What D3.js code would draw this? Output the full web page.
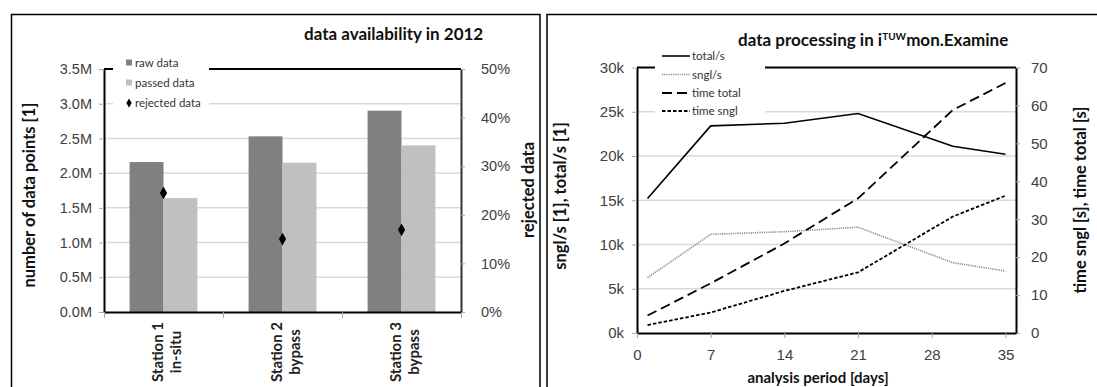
<!DOCTYPE html>
<html><head><meta charset="utf-8">
<script src="https://cdn.jsdelivr.net/npm/d3@7"></script>
<style>
body{margin:0;background:#fff;}
svg{display:block;font-family:Lato,"Open Sans",sans-serif;}
</style></head><body>
<svg id="c" width="1097" height="387"></svg>
<script>
// ---------- data: left chart ----------
const stations = ["Station 1|in-situ", "Station 2|bypass", "Station 3|bypass"];
const rawData = [2.16, 2.53, 2.90];        // millions
const passedData = [1.64, 2.15, 2.40];     // millions
const rejectedPct = [24.5, 15.0, 16.9];    // percent
const countTicks = [0, 0.5, 1, 1.5, 2, 2.5, 3, 3.5];
const pctTicks = [0, 10, 20, 30, 40, 50];
const leftLegend = ["raw data", "passed data", "rejected data"];

// ---------- data: right chart ----------
const days = [1, 7, 14, 21, 30, 35];
const totalPerS = [15.2, 23.4, 23.7, 24.8, 21.1, 20.2];   // k
const snglPerS = [6.25, 11.15, 11.45, 11.95, 7.95, 7.0];  // k
const timeTotal = [4.6, 13.1, 23.6, 35.5, 58.8, 65.9];    // s
const timeSngl = [2.1, 5.4, 11.1, 16.0, 30.7, 36.2];      // s
const dayTicks = [0, 7, 14, 21, 28, 35];
const rateTicks = [0, 5, 10, 15, 20, 25, 30];
const secTicks = [0, 10, 20, 30, 40, 50, 60, 70];
const rightLegend = ["total/s", "sngl/s", "time total", "time sngl"];

const svg = d3.select("#c");
const TICKC = "#404040", GRID = "#d9d9d9";

// panel frames
svg.append("rect").attr("x", 11.5).attr("y", 14.5).attr("width", 528.5).attr("height", 420)
  .attr("fill", "none").attr("stroke", "#000").attr("stroke-width", 1.5);
svg.append("rect").attr("x", 547).attr("y", 14.5).attr("width", 600).attr("height", 420)
  .attr("fill", "none").attr("stroke", "#000").attr("stroke-width", 1.5);

function styleAxis(g, domainColor, domainWidth, fs) {
  g.select(".domain").attr("stroke", domainColor).attr("stroke-width", domainWidth);
  g.selectAll(".tick line").attr("stroke", "#a6a6a6").attr("stroke-width", 1);
  g.selectAll(".tick text").attr("fill", TICKC).style("font-size", fs + "px");
}

// ================= LEFT CHART =================
(function () {
  const X0 = 104, X1 = 461, Y0 = 69, Y1 = 312;
  const x = d3.scaleBand().domain(stations).range([X0, X1]).paddingInner(0.43).paddingOuter(0.215);
  const xs = d3.scaleBand().domain(["raw", "passed"]).range([0, x.bandwidth()]);
  const y = d3.scaleLinear().domain([0, 3.5]).range([Y1, Y0]);
  const yp = d3.scaleLinear().domain([0, 50]).range([Y1, Y0]);
  const g = svg.append("g");

  g.selectAll(".grid").data(countTicks.filter(d => d > 0 && d < 3.5)).join("line")
    .attr("x1", X0).attr("x2", X1).attr("y1", d => y(d)).attr("y2", d => y(d))
    .attr("stroke", GRID).attr("stroke-width", 1.5);

  stations.forEach((s, i) => {
    g.append("rect").attr("x", x(s) + xs("raw")).attr("y", y(rawData[i]))
      .attr("width", xs.bandwidth()).attr("height", y(0) - y(rawData[i])).attr("fill", "#808080");
    g.append("rect").attr("x", x(s) + xs("passed")).attr("y", y(passedData[i]))
      .attr("width", xs.bandwidth()).attr("height", y(0) - y(passedData[i])).attr("fill", "#c0c0c0");
  });

  g.append("line").attr("x1", X0).attr("x2", X1).attr("y1", Y0).attr("y2", Y0)
    .attr("stroke", "#000").attr("stroke-width", 2);

  const ax = g.append("g").attr("transform", `translate(${X0},0)`)
    .call(d3.axisLeft(y).tickValues(countTicks).tickFormat(d => d.toFixed(1) + "M").tickSize(5).tickSizeOuter(0).tickPadding(7));
  styleAxis(ax, "#000", 2, 14.5);
  const axr = g.append("g").attr("transform", `translate(${X1},0)`)
    .call(d3.axisRight(yp).tickValues(pctTicks).tickFormat(d => d + "%").tickSize(4).tickSizeOuter(0).tickPadding(16));
  styleAxis(axr, "#333", 2, 14.5);
  const xb = d3.scaleLinear().domain([0, stations.length]).range([X0, X1]);
  const axb = g.append("g").attr("transform", `translate(0,${Y1})`)
    .call(d3.axisBottom(xb).tickValues(d3.range(stations.length + 1)).tickFormat("").tickSize(6).tickSizeOuter(0));
  styleAxis(axb, "#000", 2, 14.5);

  stations.forEach(s => {
    const parts = s.split("|");
    const t = g.append("text")
      .attr("transform", `translate(${x(s) + x.bandwidth() / 2},352) rotate(-90)`)
      .attr("text-anchor", "middle").style("font-size", "15px").style("font-weight", "bold").attr("fill", "#222");
    t.append("tspan").attr("x", 0).attr("y", -1).text(parts[0]);
    t.append("tspan").attr("x", 0).attr("y", 17).text(parts[1]);
  });

  g.selectAll(".dia").data(stations).join("path")
    .attr("transform", (s, i) => `translate(${x(s) + x.bandwidth() / 2},${yp(rejectedPct[i])})`)
    .attr("d", d3.symbol(d3.symbolDiamond, 46)).attr("fill", "#000");

  // legend
  g.append("rect").attr("x", 113).attr("y", 52).attr("width", 96).attr("height", 62).attr("fill", "#fff");
  const ly = [63, 83, 103];
  leftLegend.forEach((name, i) => {
    if (i < 2) {
      g.append("rect").attr("x", 126).attr("y", ly[i] - 3.5).attr("width", 6).attr("height", 6)
        .attr("fill", i === 0 ? "#808080" : "#c0c0c0");
    } else {
      g.append("path").attr("transform", `translate(129,${ly[i]})`)
        .attr("d", d3.symbol(d3.symbolDiamond, 24)).attr("fill", "#000");
    }
    g.append("text").attr("x", 135).attr("y", ly[i]).attr("dy", "0.35em")
      .style("font-size", "11.5px").attr("fill", "#333").text(name);
  });

  g.append("text").attr("x", 304).attr("y", 40).style("font-size", "17px").style("font-weight", "bold")
    .attr("fill", "#111").text("data availability in 2012");
  g.append("text").attr("transform", "translate(35,195) rotate(-90)").attr("text-anchor", "middle")
    .style("font-size", "16.5px").style("font-weight", "bold").attr("fill", "#111").text("number of data points [1]");
  g.append("text").attr("transform", "translate(534,190) rotate(-90)").attr("text-anchor", "middle")
    .style("font-size", "16.5px").style("font-weight", "bold").attr("fill", "#111").text("rejected data");
})();

// ================= RIGHT CHART =================
(function () {
  const X0 = 637, X1 = 1016, Y0 = 67.5, Y1 = 333;
  const x = d3.scaleLinear().domain([0, 36]).range([X0, X1]);
  const yk = d3.scaleLinear().domain([0, 30]).range([Y1, Y0]);
  const ys = d3.scaleLinear().domain([0, 70]).range([Y1, Y0]);
  const g = svg.append("g");

  g.selectAll(".grid").data(rateTicks.filter(d => d > 0 && d < 30)).join("line")
    .attr("x1", X0).attr("x2", X1).attr("y1", d => yk(d)).attr("y2", d => yk(d))
    .attr("stroke", GRID).attr("stroke-width", 1.5);

  g.append("line").attr("x1", X0).attr("x2", X1).attr("y1", Y0).attr("y2", Y0)
    .attr("stroke", "#000").attr("stroke-width", 2);

  const ax = g.append("g").attr("transform", `translate(${X0},0)`)
    .call(d3.axisLeft(yk).tickValues(rateTicks).tickFormat(d => d + "k").tickSize(5).tickSizeOuter(0).tickPadding(8));
  styleAxis(ax, "#000", 2, 15);
  const axr = g.append("g").attr("transform", `translate(${X1},0)`)
    .call(d3.axisRight(ys).tickValues(secTicks).tickSize(4).tickSizeOuter(0).tickPadding(11));
  styleAxis(axr, "#000", 2, 15);
  const axb = g.append("g").attr("transform", `translate(0,${Y1})`)
    .call(d3.axisBottom(x).tickValues(dayTicks).tickSize(5).tickSizeOuter(0).tickPadding(11));
  styleAxis(axb, "#000", 2, 15);

  const line = (yScale) => d3.line().x((d, i) => x(days[i])).y(d => yScale(d));
  const series = [
    { v: totalPerS, s: yk, color: "#000", w: 1.6, dash: null },
    { v: snglPerS, s: yk, color: "#8c8c8c", w: 1.6, dash: "1.2,1" },
    { v: timeTotal, s: ys, color: "#000", w: 1.8, dash: "10,5" },
    { v: timeSngl, s: ys, color: "#000", w: 1.8, dash: "3.5,2" }
  ];
  series.forEach(se => {
    g.append("path").datum(se.v).attr("d", line(se.s)).attr("fill", "none")
      .attr("stroke", se.color).attr("stroke-width", se.w).attr("stroke-dasharray", se.dash);
  });

  g.append("rect").attr("x", 655).attr("y", 46).attr("width", 110).attr("height", 74).attr("fill", "#fff");
  const ly = [56, 74.5, 93, 111];
  rightLegend.forEach((name, i) => {
    const se = series[i];
    g.append("line").attr("x1", 662).attr("x2", 690).attr("y1", ly[i]).attr("y2", ly[i])
      .attr("stroke", se.color).attr("stroke-width", se.w).attr("stroke-dasharray", se.dash);
    g.append("text").attr("x", 692).attr("y", ly[i]).attr("dy", "0.35em")
      .style("font-size", "11.5px").attr("fill", "#333").text(name);
  });

  const t = g.append("text").attr("x", 738).attr("y", 46).style("font-size", "17px")
    .style("font-weight", "bold").attr("fill", "#111");
  t.append("tspan").text("data processing in i");
  t.append("tspan").attr("dy", -6).style("font-size", "10px").text("TUW");
  t.append("tspan").attr("dy", 6).text("mon.Examine");
  g.append("text").attr("x", 818).attr("y", 383).attr("text-anchor", "middle")
    .style("font-size", "15px").style("font-weight", "bold").attr("fill", "#111").text("analysis period [days]");
  g.append("text").attr("transform", "translate(566,196) rotate(-90)").attr("text-anchor", "middle")
    .style("font-size", "16.5px").style("font-weight", "bold").attr("fill", "#111").text("sngl/s [1], total/s [1]");
  g.append("text").attr("transform", "translate(1086,200) rotate(-90)").attr("text-anchor", "middle")
    .style("font-size", "16.5px").style("font-weight", "bold").attr("fill", "#111").text("time sngl [s], time total [s]");
})();
</script>
</body></html>
